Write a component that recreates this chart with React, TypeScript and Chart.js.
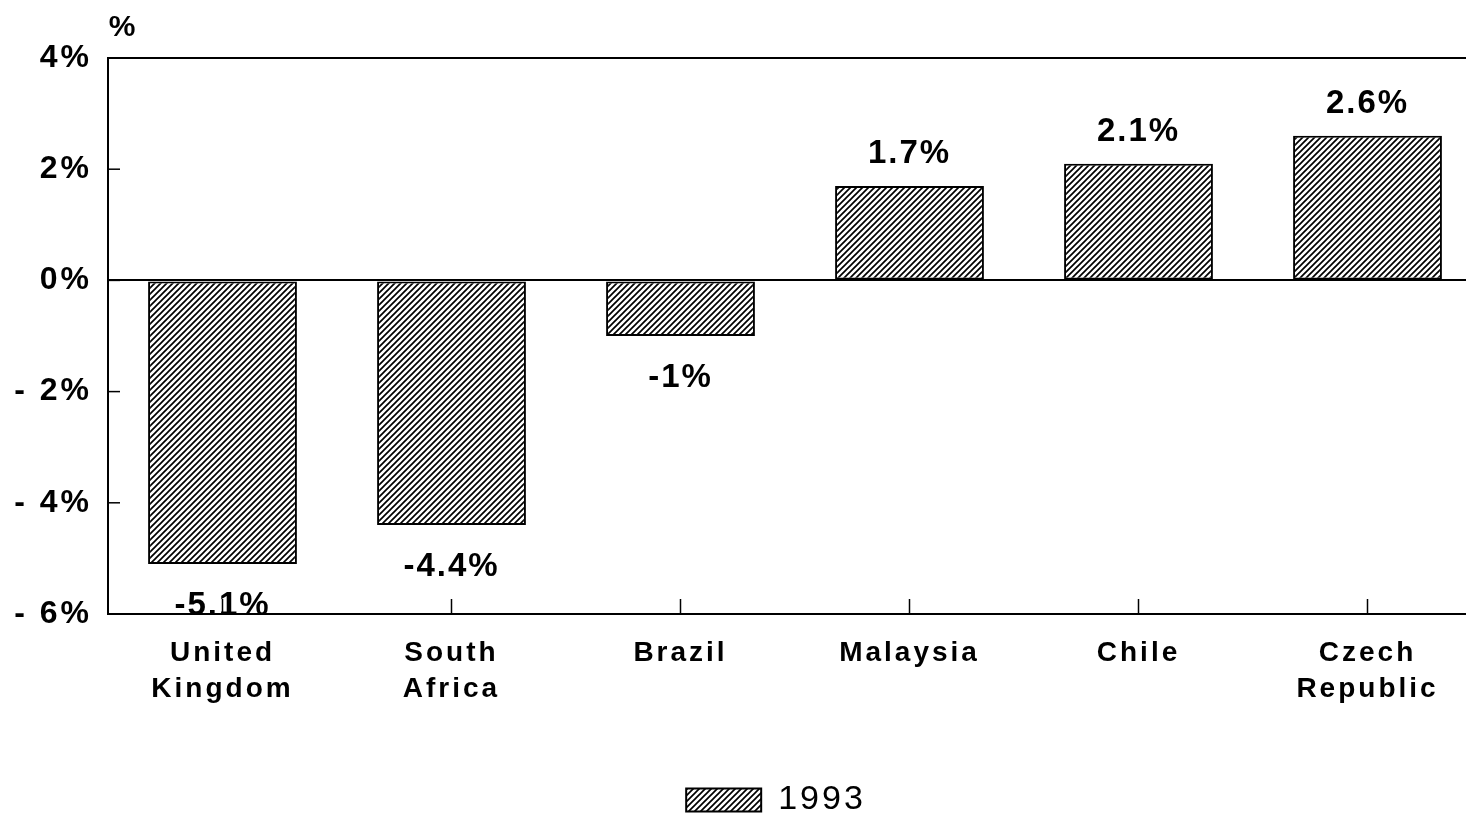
import React, { useEffect, useRef } from "react";
import { Chart, registerables } from "chart.js";

Chart.register(...registerables);

const categories: string[][] = [
  ["United", "Kingdom"],
  ["South", "Africa"],
  ["Brazil"],
  ["Malaysia"],
  ["Chile"],
  ["Czech", "Republic"],
];
const values1993: number[] = [-5.1, -4.4, -1, 1.7, 2.1, 2.6];
const valueLabels: string[] = ["-5.1%", "-4.4%", "-1%", "1.7%", "2.1%", "2.6%"];
const seriesName = "1993";
const yTickMin = -6;
const yTickMax = 4;
const yTickStep = 2;

const FONT = "'Liberation Sans', Arial, sans-serif";

function makeHatch(): CanvasPattern | string {
  const s = 6;
  const c = document.createElement("canvas");
  c.width = s;
  c.height = s;
  const g = c.getContext("2d");
  if (!g) return "#888";
  g.fillStyle = "#fff";
  g.fillRect(0, 0, s, s);
  g.strokeStyle = "#000";
  g.lineWidth = 1.7;
  g.beginPath();
  g.moveTo(-1, s + 1);
  g.lineTo(s + 1, -1);
  g.moveTo(-1, 1);
  g.lineTo(1, -1);
  g.moveTo(s - 1, s + 1);
  g.lineTo(s + 1, s - 1);
  g.stroke();
  const p = g.createPattern(c, "repeat");
  return p || "#888";
}

const decorPlugin = {
  id: "decor",
  afterLayout(chart: any) {
    if (chart.legend) {
      chart.legend.left += 29;
      chart.legend.right += 29;
    }
  },
  beforeDraw(chart: any) {
    chart.ctx.letterSpacing = "3px";
  },
  afterDraw(chart: any) {
    const ctx = chart.ctx;
    const area = chart.chartArea;
    const xs = chart.scales.x;
    const ys = chart.scales.y;
    ctx.save();
    ctx.letterSpacing = "0px";
    ctx.strokeStyle = "#000";
    ctx.lineWidth = 2;
    // top border
    ctx.beginPath();
    ctx.moveTo(area.left, area.top);
    ctx.lineTo(area.right, area.top);
    ctx.stroke();
    // inward ticks on x axis
    ctx.lineWidth = 1.5;
    xs.ticks.forEach((_t: any, i: number) => {
      const px = xs.getPixelForTick(i);
      ctx.beginPath();
      ctx.moveTo(px, area.bottom);
      ctx.lineTo(px, area.bottom - 15);
      ctx.stroke();
    });
    // inward ticks on y axis
    ys.ticks.forEach((_t: any, i: number) => {
      const py = ys.getPixelForTick(i);
      ctx.beginPath();
      ctx.moveTo(area.left, py);
      ctx.lineTo(area.left + 12, py);
      ctx.stroke();
    });
    // unit label
    ctx.fillStyle = "#000";
    ctx.font = `bold 30px ${FONT}`;
    ctx.textAlign = "center";
    ctx.textBaseline = "middle";
    ctx.fillText("%", 122, 28);
    // value labels
    ctx.letterSpacing = "2px";
    ctx.font = `bold 33px ${FONT}`;
    const meta = chart.getDatasetMeta(0);
    meta.data.forEach((el: any, i: number) => {
      const v = values1993[i];
      const y = v >= 0 ? el.y - 32 : el.y + 42;
      ctx.fillText(valueLabels[i], el.x, y);
    });
    ctx.restore();
  },
};

export default function App() {
  const ref = useRef<HTMLCanvasElement | null>(null);
  useEffect(() => {
    if (!ref.current) return;
    const hatch = makeHatch();
    const chart = new Chart(ref.current, {
      type: "bar",
      data: {
        labels: categories,
        datasets: [
          {
            label: seriesName,
            data: values1993,
            backgroundColor: hatch as any,
            borderColor: "#000",
            borderWidth: 2,
            borderSkipped: false,
            barPercentage: 0.65,
            categoryPercentage: 1,
          },
        ],
      },
      options: {
        responsive: false,
        animation: false,
        layout: { padding: { left: 0, top: 58, right: 70, bottom: 2 } },
        plugins: {
          legend: {
            display: true,
            position: "bottom",
            labels: {
              boxWidth: 75,
              boxHeight: 23,
              color: "#000",
              font: { family: FONT, size: 34 },
              padding: 4,
            },
          },
          tooltip: { enabled: false },
        },
        scales: {
          x: {
            grid: { display: false, drawTicks: false },
            border: { display: true, color: "#000", width: 2 },
            ticks: {
              color: "#000",
              font: { family: FONT, size: 28, weight: "bold", lineHeight: 1.3 },
              padding: 21,
              maxRotation: 0,
              autoSkip: false,
            },
            afterFit(scale: any) {
              scale.height = 165;
            },
          },
          y: {
            min: yTickMin,
            max: yTickMax,
            ticks: {
              stepSize: yTickStep,
              color: "#000",
              font: { family: FONT, size: 32, weight: "bold" },
              padding: 16,
              callback: (v: any) => (Number(v) < 0 ? `- ${Math.abs(Number(v))}%` : `${v}%`),
            },
            grid: {
              drawTicks: false,
              lineWidth: 2,
              color: (c: any) => (c.tick && c.tick.value === 0 ? "#000" : "rgba(0,0,0,0)"),
            },
            border: { display: true, color: "#000", width: 2 },
            afterFit(scale: any) {
              scale.width = 108;
            },
          },
        },
      },
      plugins: [decorPlugin],
    });
    return () => chart.destroy();
  }, []);
  return (
    <div
      style={{
        position: "absolute",
        left: 0,
        top: 0,
        width: 1466,
        height: 829,
        overflow: "hidden",
        background: "#fff",
      }}
    >
      <canvas ref={ref} width={1552} height={829} style={{ display: "block" }} />
    </div>
  );
}
